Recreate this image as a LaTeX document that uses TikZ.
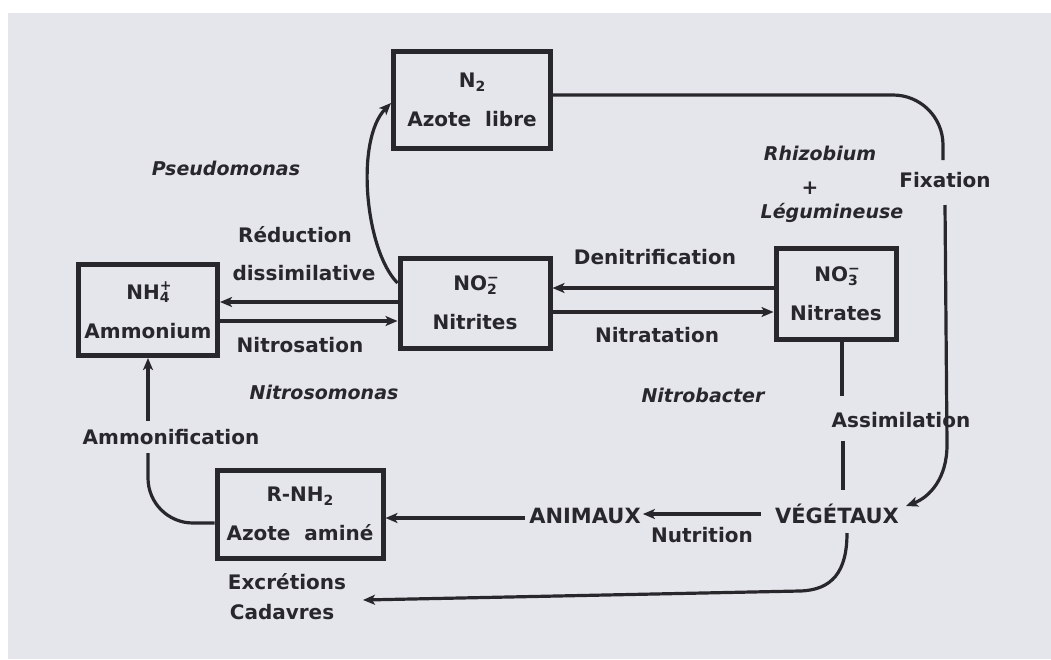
\documentclass[tikz,border=0pt]{standalone}
\usepackage{fontspec}
\setmainfont{DejaVu Sans}
\usetikzlibrary{arrows.meta}
\definecolor{bg}{RGB}{229,229,236}
\definecolor{ink}{RGB}{40,40,44}
\newcommand{\mysb}[1]{\raisebox{-0.35ex}{\fontsize{14}{14}\selectfont #1}}
\newcommand{\mysp}[1]{\raisebox{0.8ex}{\fontsize{14}{14}\selectfont #1}}
\newcommand{\mysbsp}[2]{\rlap{\mysp{#2}}\mysb{#1}}
\begin{document}
\begin{tikzpicture}[x=1pt,y=-1pt,
  every node/.style={text=ink, font=\fontsize{20}{24}\selectfont\bfseries, inner sep=0pt},
  box/.style={draw=ink, line width=5pt, align=center, font=\fontsize{20}{39}\selectfont\bfseries},
  it/.style={font=\fontsize{19}{23}\selectfont\bfseries\itshape},
  caps/.style={font=\fontsize{21}{25}\selectfont\bfseries},
  conn/.style={draw=ink, line width=3.2pt},
  arr/.style={conn, -{Stealth[length=12pt,width=10pt,inset=3pt]}},
]
\useasboundingbox (0,0) rectangle (1051,659);
\fill[white] (0,0) rectangle (1051,659);
\fill[bg] (8,13) rectangle (1051,659);

% boxes
\node[box, minimum width=157pt, minimum height=97pt] (n2) at (472,100) {N\mysb{2}\\Azote\ \ libre};
\node[box, minimum width=139pt, minimum height=91pt] (nh4) at (148,310) {NH\mysbsp{4}{+}\\Ammonium};
\node[box, minimum width=150pt, minimum height=90pt] (no2) at (475,303) {NO\mysbsp{2}{−}\\Nitrites};
\node[box, minimum width=120pt, minimum height=91pt] (no3) at (836,294) {NO\mysbsp{3}{−}\\Nitrates};
\node[box, minimum width=166pt, minimum height=88pt] (rnh2) at (300,514) {R-NH\mysb{2}\\Azote\ \ aminé};

% plain labels
\node[caps] (veg) at (837,514) {VÉGÉTAUX};
\node[caps] (ani) at (585,516) {ANIMAUX};
\node (nutr) at (702,535) {Nutrition};
\node (assim) at (901,420) {Assimilation};
\node (fix) at (945,180) {Fixation};
\node[it] (rhizo) at (820,153) {Rhizobium};
\node (plus) at (810,188) {+};
\node[it] (legu) at (832,213) {Légumineuse};
\node (denit) at (655,257) {Denitrification};
\node (nitrat) at (657,335) {Nitratation};
\node[it] (nbact) at (703,395) {Nitrobacter};
\node[it] (pseudo) at (226,168) {Pseudomonas};
\node (reduc) at (295,235) {Réduction};
\node (dissim) at (304,273) {dissimilative};
\node (nitros) at (300,345) {Nitrosation};
\node[it] (nsomo) at (324,392) {Nitrosomonas};
\node (amm) at (171,437) {Ammonification};
\node (excr) at (287,582) {Excrétions};
\node (cad) at (282,612) {Cadavres};

% helper coordinates
\coordinate (fixtop) at (943,160);
\coordinate (fixbot) at (945,205);
\coordinate (vegin) at (906,506);
\coordinate (as1) at (842,396);
\coordinate (as2) at (843,441);
\coordinate (vegtop) at (843,490);
\coordinate (vegbot) at (847,533);
\coordinate (excin) at (363,600);

% fixation
\draw[conn, rounded corners=50pt] ([yshift=5pt]n2.east) -| (fixtop);
\draw[arr] (fixbot) -- (947,445) .. controls (947,478) and (930,497) .. (vegin);

% assimilation
\draw[conn] (no3.south -| as1) -- (as1);
\draw[conn] (as2) -- (vegtop);

% nutrition chain
\draw[arr, shorten <=14pt, shorten >=2pt] (veg.west |- 0,514) -- (ani.east |- 0,514);
\draw[arr, shorten <=4pt] (ani.west |- 0,518) -- (rnh2.east |- 0,518);

% excretions
\draw[arr] (vegbot) .. controls (847,572) and (832,590) .. (800,591) -- (excin);

% ammonium <-> nitrites
\draw[arr] (no2.west |- 0,302) -- (nh4.east |- 0,302);
\draw[arr] (nh4.east |- 0,321) -- (no2.west |- 0,321);

% nitrites <-> nitrates
\draw[arr] (no3.west |- 0,288) -- (no2.east |- 0,288);
\draw[arr] (no2.east |- 0,312) -- (no3.west |- 0,312);

% reduction to N2
\draw[arr] (no2.west |- 0,283) .. controls (365,250) and (355,140) .. (n2.west |- 0,103);

% ammonification
\draw[arr] (nh4.south |- 0,421) -- (nh4.south);
\draw[conn, rounded corners=45pt] (nh4.south |- 0,453) |- (rnh2.west |- 0,523);
\end{tikzpicture}
\end{document}
